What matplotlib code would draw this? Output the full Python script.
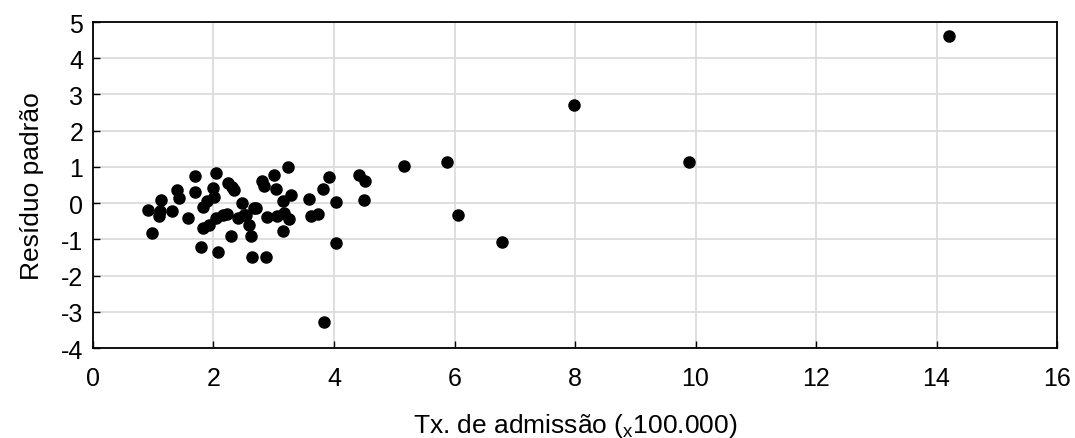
import matplotlib
matplotlib.use('Agg')
import matplotlib.pyplot as plt

plt.rcParams['font.family'] = ['Liberation Sans', 'DejaVu Sans']
plt.rcParams['mathtext.fontset'] = 'custom'
plt.rcParams['mathtext.rm'] = 'Liberation Sans'
plt.rcParams['axes.unicode_minus'] = False

# taxa de admissao (x100.000) vs residuo padrao
tx_admissao = [1.70, 2.04, 1.70, 1.40, 1.42, 1.13, 0.91, 1.10, 1.31, 1.57,
               0.98, 1.82, 1.90, 1.99, 2.01, 2.24, 2.34, 2.30, 1.82, 1.93,
               2.04, 2.15, 2.29, 2.48, 2.40, 2.51, 2.59, 2.62, 2.70, 1.79,
               2.07, 2.64, 2.87, 2.81, 2.84, 2.88, 3.23, 3.01, 3.03, 3.28,
               3.15, 2.68, 2.54, 3.06, 3.17, 3.26, 3.16, 3.58, 3.61, 3.74,
               3.82, 3.92, 4.04, 4.04, 4.41, 4.51, 4.49, 3.83, 5.17, 5.88,
               6.06, 6.79, 7.99, 9.89, 14.21, 2.22, 1.12]
residuo = [0.75, 0.83, 0.30, 0.35, 0.14, 0.09, -0.18, -0.35, -0.23, -0.40,
           -0.83, -0.12, 0.05, 0.41, 0.18, 0.55, 0.37, 0.45, -0.69, -0.60,
           -0.41, -0.32, -0.92, 0.00, -0.41, -0.32, -0.60, -0.92, -0.14, -1.22,
           -1.35, -1.49, -1.49, 0.60, 0.46, -0.37, 0.99, 0.77, 0.40, 0.23,
           0.06, -0.14, -0.32, -0.35, -0.28, -0.44, -0.76, 0.12, -0.35, -0.30,
           0.39, 0.71, 0.02, -1.09, 0.78, 0.60, 0.09, -3.29, 1.02, 1.13,
           -0.33, -1.08, 2.71, 1.13, 4.61, -0.30, -0.22]

fig = plt.figure(figsize=(10.75, 4.39), dpi=100)
ax = fig.add_axes([0.0865, 0.205, 0.8968, 0.7425])

ax.plot(tx_admissao, residuo, 'o', color='black', ms=8, zorder=3)

ax.set_xlim(0, 16)
ax.set_ylim(-4, 5)
ax.set_xticks(range(0, 17, 2))
ax.set_yticks(range(-4, 6))
ax.grid(True, color='#dcdcdc', lw=1.3)
ax.tick_params(direction='in', length=5, width=1, labelsize=18, pad=13)
ax.tick_params(axis='y', pad=7)
for s in ax.spines.values():
    s.set_linewidth(1.3)

ax.set_xlabel(r'Tx. de admissão ($_{\mathregular{x}}$100.000)', fontsize=19, labelpad=15)
ax.set_ylabel('Resíduo padrão', fontsize=19, labelpad=12)

plt.savefig('out.png', dpi=100)
